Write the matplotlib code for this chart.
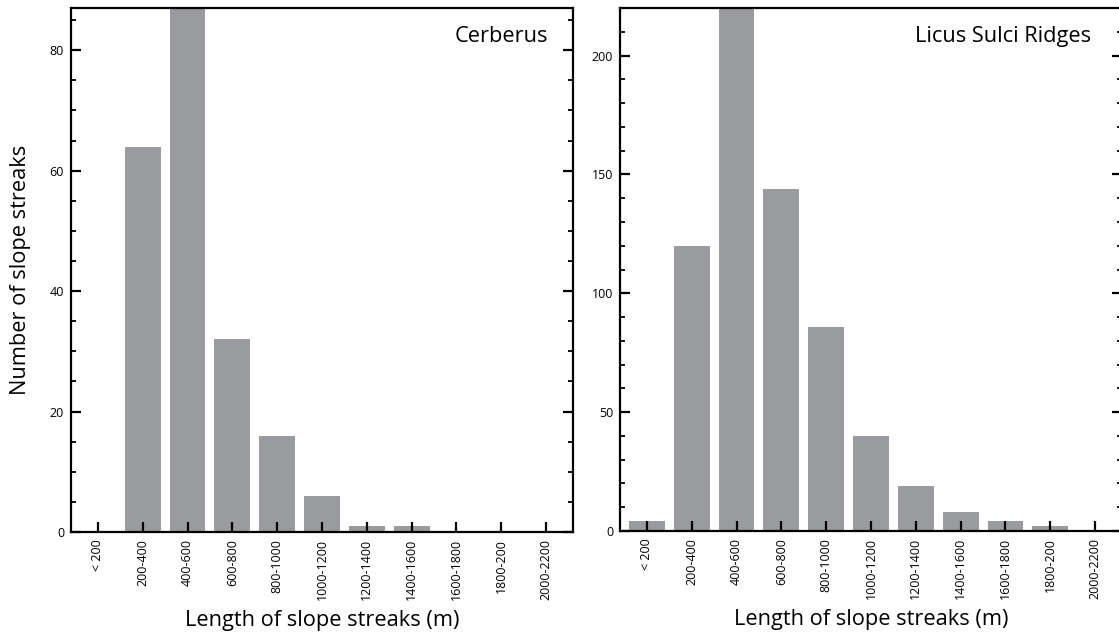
import matplotlib
matplotlib.use("Agg")
import matplotlib.pyplot as plt
from matplotlib.ticker import MultipleLocator

plt.rcParams['font.family'] = ['Open Sans', 'DejaVu Sans']

# length classes (m)
length_classes = ['< 200', '200-400', '400-600', '600-800', '800-1000', '1000-1200',
                  '1200-1400', '1400-1600', '1600-1800', '1800-200', '2000-2200']

# slope streak counts per length class
cerberus_counts = [0, 64, 87, 32, 16, 6, 1, 1, 0, 0, 0]
licus_counts = [4, 120, 222, 144, 86, 40, 19, 8, 4, 2, 0]

bar_color = '#9a9b9f'

fig = plt.figure(figsize=(11.19, 6.41), dpi=100)
ax1 = fig.add_axes([71 / 1119, 109 / 641, 502 / 1119, 524 / 641])
ax2 = fig.add_axes([620 / 1119, 110 / 641, 502 / 1119, 523 / 641])


def style_panel(ax, counts, ymax, major, minor, name, name_x):
    x = range(len(length_classes))
    ax.bar(x, counts, width=0.8, color=bar_color, zorder=1)
    ax.set_xlim(-0.6, len(length_classes) - 0.4)
    ax.set_ylim(0, ymax)
    ax.set_xticks(list(x))
    ax.set_xticklabels(length_classes, rotation=90, fontsize=9)
    ax.yaxis.set_major_locator(MultipleLocator(major))
    ax.yaxis.set_minor_locator(MultipleLocator(minor))
    ax.tick_params(axis='y', which='major', direction='in', length=7, width=1.6,
                   labelsize=9, right=True, pad=5)
    ax.tick_params(axis='y', which='minor', direction='in', length=3.5, width=1.3, right=True)
    ax.tick_params(axis='x', which='major', direction='in', length=7, width=1.6, pad=5)
    for s in ax.spines.values():
        s.set_linewidth(1.6)
        s.set_zorder(3)
    ax.set_xlabel('Length of slope streaks (m)', fontsize=15.7, labelpad=7)
    ax.text(name_x, 0.965, name, transform=ax.transAxes, ha='right', va='top', fontsize=15.7)


style_panel(ax1, cerberus_counts, 87, 20, 5, 'Cerberus', 0.950)
style_panel(ax2, licus_counts, 220, 50, 10, 'Licus Sulci Ridges', 0.938)
ax1.set_ylabel('Number of slope streaks', fontsize=15.7, va='center')
ax1.yaxis.set_label_coords(-0.101, 0.5)

fig.savefig('out.png', dpi=100)
